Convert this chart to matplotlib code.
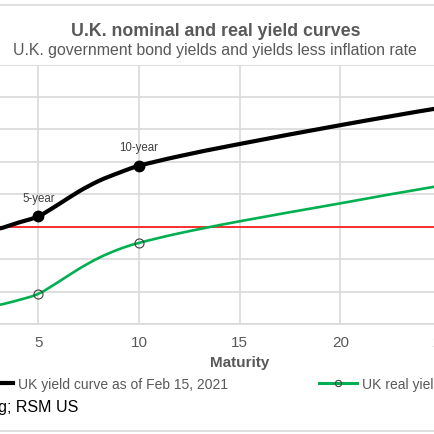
import matplotlib.pyplot as plt
from matplotlib.lines import Line2D
from matplotlib.patches import Rectangle, PathPatch
from matplotlib.path import Path

plt.rcParams['font.family'] = ['Liberation Sans', 'DejaVu Sans']

# yields in percent
maturity = [1, 2, 3, 4, 5, 6, 7, 8, 9, 10, 12, 15, 20, 25, 30]
nominal = [-0.05, -0.04, -0.02, 0.037, 0.096, 0.206, 0.324, 0.423, 0.498, 0.563,
           0.652, 0.765, 0.939, 1.10, 1.24]
real = [-0.76, -0.75, -0.725, -0.68, -0.621, -0.511, -0.392, -0.289, -0.209, -0.15,
        -0.061, 0.05, 0.216, 0.38, 0.52]
labelled = [5, 10]
point_labels = ['5-year', '10-year']
x_ticks = [0, 5, 10, 15, 20, 25, 30]
y_ticks = [-0.9, -0.6, -0.3, 0.0, 0.3, 0.6, 0.9, 1.2, 1.5]
series_names = ['UK yield curve as of Feb 15, 2021', 'UK real yield curve']

GRAY = '#595959'
GRID = '#D9D9D9'
GREEN = '#00B050'
W = 435.0


def smooth_path(xs, ys):
    # Excel-style smoothed line: Catmull-Rom segments as cubic Beziers
    pts = list(zip(xs, ys))
    verts = [pts[0]]
    codes = [Path.MOVETO]
    for i in range(len(pts) - 1):
        p0 = pts[i - 1] if i > 0 else pts[i]
        p1, p2 = pts[i], pts[i + 1]
        p3 = pts[i + 2] if i + 2 < len(pts) else p2
        c1 = (p1[0] + (p2[0] - p0[0]) / 6, p1[1] + (p2[1] - p0[1]) / 6)
        c2 = (p2[0] - (p3[0] - p1[0]) / 6, p2[1] - (p3[1] - p1[1]) / 6)
        verts += [c1, c2, p2]
        codes += [Path.CURVE4] * 3
    return Path(verts, codes)


fig = plt.figure(figsize=(4.35, 4.35), dpi=100)
# the picture is a crop: the plot area runs past both sides of the canvas
ax = fig.add_axes([-62.4 / W, 1 - 325 / W, 604.2 / W, 259.5 / W])

idx = [maturity.index(m) for m in labelled]
ax.axhline(0, color='#FF0000', lw=1.1, zorder=2)
ax.add_patch(PathPatch(smooth_path(maturity, real), fill=False, ec=GREEN,
                       lw=1.9, zorder=3, capstyle='round'))
ax.plot(labelled, [real[i] for i in idx], 'o', ms=6.5, mfc='none',
        mec='#404040', mew=0.8, zorder=3.5)
ax.add_patch(PathPatch(smooth_path(maturity, nominal), fill=False, ec='black',
                       lw=3, zorder=4, capstyle='round'))
ax.plot(labelled, [nominal[i] for i in idx], 'o', color='black', ms=7.5, zorder=4.5)

for m, lab in zip(labelled, point_labels):
    ax.annotate(lab, (m, nominal[maturity.index(m)]), xytext=(0, 13.5),
                textcoords='offset points', ha='center', va='center',
                fontsize=8.3, color='#404040')

ax.set_xlim(0, 30)
ax.set_ylim(-0.9, 1.5)
ax.set_xticks(x_ticks)
ax.set_yticks(y_ticks)
ax.grid(color=GRID, lw=1.2)
ax.set_axisbelow(True)
ax.tick_params(length=0, colors=GRAY, labelsize=11, pad=8, labelleft=False)
for s in ['top', 'left', 'right']:
    ax.spines[s].set_visible(False)
ax.spines['bottom'].set_color(GRID)
ax.spines['bottom'].set_linewidth(1.2)
ax.set_xlabel('Maturity', fontsize=11, fontweight='bold', color=GRAY, labelpad=4)

fig.text(0.495, 1 - 32 / W, 'U.K. nominal and real yield curves', ha='center',
         va='center', fontsize=12.8, fontweight='bold', color=GRAY)
fig.text(0.495, 1 - 51 / W, 'U.K. government bond yields and yields less inflation rate',
         ha='center', va='center', fontsize=11.4, color=GRAY)

handles = [Line2D([], [], color='black', lw=3, marker='o', ms=5),
           Line2D([], [], color=GREEN, lw=2.2, marker='o', ms=4.5, mfc='none',
                  mec='#404040', mew=0.8)]
fig.legend(handles, series_names, loc='center left',
           bbox_to_anchor=(-25 / W, 1 - 385 / W), ncol=2, frameon=False,
           fontsize=10, labelcolor=GRAY, handlelength=2.74, handletextpad=0.36,
           columnspacing=6.55, borderpad=0, borderaxespad=0)

fig.text(78 / W, 1 - 408 / W, 'Source: Bloomberg; RSM US', ha='right',
         va='center', fontsize=11.5, color='black')

fig.add_artist(Rectangle((-0.1, 1 - 432 / W), 1.2, 426 / W, transform=fig.transFigure,
                         fill=False, ec=GRID, lw=1.2))

fig.savefig('out.png', dpi=100)
